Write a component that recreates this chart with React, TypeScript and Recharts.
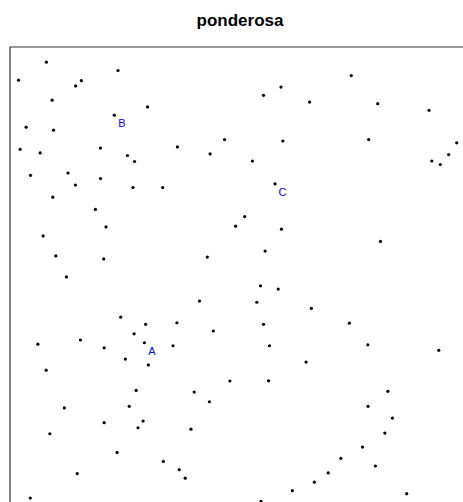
import React from 'react';
import { ScatterChart, Scatter, XAxis, YAxis, ReferenceArea } from 'recharts';

// tree positions (metres, window 0..200 x 0..200)
const treeX = [
    15.8, 3.7, 46.9, 28.5, 31.0, 18.3, 59.7, 45.3, 7.0, 18.9,
    4.4, 13.1, 39.3, 51.0, 54.1, 72.7, 86.9, 93.2, 105.3, 110.1,
    117.7, 118.5, 130.1, 148.2, 159.7, 155.8, 182.0, 194.0, 190.5, 183.2,
    186.9, 8.9, 25.2, 39.3, 28.4, 53.4, 66.3, 115.1, 18.6, 37.1,
    101.9, 98.0, 41.7, 117.9, 14.4, 160.9, 110.8, 19.9, 40.7, 85.7,
    24.5, 108.8, 116.5, 82.3, 107.2, 130.9, 48.1, 58.9, 72.5, 110.1,
    147.4, 88.3, 53.9, 12.1, 30.6, 40.9, 58.4, 70.8, 112.7, 155.4,
    186.2, 50.1, 60.1, 128.6, 15.7, 95.5, 112.3, 54.8, 80.0, 164.1,
    86.6, 23.6, 51.8, 155.5, 57.8, 40.9, 55.6, 166.1, 17.3, 78.6,
    162.8, 46.5, 153.1, 66.6, 143.7, 73.5, 158.7, 29.2, 76.1, 138.2,
    132.2, 122.6, 172.3, 8.8, 109.0,
];
const treeY = [
    193.4, 185.6, 189.8, 183.1, 185.4, 176.9, 174.0, 170.4, 165.2, 163.9,
    155.6, 154.0, 156.1, 152.9, 150.3, 156.6, 153.6, 159.8, 150.5, 179.0,
    182.6, 159.2, 176.1, 187.6, 175.4, 159.8, 172.5, 158.4, 153.3, 150.5,
    149.0, 144.3, 145.3, 142.9, 140.1, 139.0, 139.0, 140.6, 134.8, 129.5,
    126.4, 122.2, 121.9, 120.9, 118.0, 115.6, 111.4, 109.3, 108.0, 108.8,
    100.2, 96.3, 94.9, 89.7, 89.2, 86.5, 82.7, 79.6, 80.3, 79.6,
    80.1, 76.7, 75.5, 71.0, 72.8, 69.4, 71.6, 70.3, 70.3, 70.7,
    68.3, 64.5, 62.0, 63.2, 59.7, 55.0, 55.1, 50.9, 50.2, 50.5,
    46.0, 43.3, 44.0, 44.0, 37.6, 36.9, 34.7, 38.9, 32.1, 34.1,
    32.4, 24.0, 26.3, 20.1, 21.4, 16.5, 18.1, 14.8, 12.8, 15.1,
    11.1, 7.4, 6.1, 4.2, 2.8,
];

// labelled trees
const markName = ['A', 'B', 'C'];
const markX = [58.4, 45.3, 115.1];
const markY = [71.6, 170.4, 140.6];

const trees = treeX.map((x, i) => ({ x, y: treeY[i] }));
const marks = markName.map((name, i) => ({ name, x: markX[i], y: markY[i] }));

const Dot = (props: any) => <circle cx={props.cx} cy={props.cy} r={1.6} fill="#000" />;

const MarkLabel = (props: any) => (
    <text
        x={props.cx + 7.5}
        y={props.cy + 12}
        textAnchor="middle"
        fill="#0000ff"
        fontSize={11}
        fontFamily="'Liberation Sans', Arial, sans-serif"
    >
        {props.payload.name}
    </text>
);

export default function App() {
    return (
        <div style={{ position: 'absolute', left: 0, top: 0, width: 463, height: 502, overflow: 'hidden', background: '#fff' }}>
            <div
                style={{
                    position: 'absolute', left: 0, top: 10.5, width: 480, textAlign: 'center',
                    fontFamily: "'Liberation Sans', Arial, sans-serif", fontWeight: 700, fontSize: 17, color: '#000',
                }}
            >
                ponderosa
            </div>
            <div style={{ position: 'absolute', left: 0, top: 0 }}>
                <ScatterChart width={480} height={520} margin={{ top: 47, right: 9.5, bottom: 12.3, left: 10 }}>
                    <XAxis type="number" dataKey="x" domain={[0, 200]} hide />
                    <YAxis type="number" dataKey="y" domain={[0, 200]} hide />
                    <ReferenceArea x1={0} x2={200} y1={0} y2={200} fill="none" fillOpacity={0} stroke="#333" strokeWidth={1.2} />
                    <Scatter data={trees} shape={<Dot />} isAnimationActive={false} />
                    <Scatter data={marks} shape={<MarkLabel />} isAnimationActive={false} />
                </ScatterChart>
            </div>
        </div>
    );
}
